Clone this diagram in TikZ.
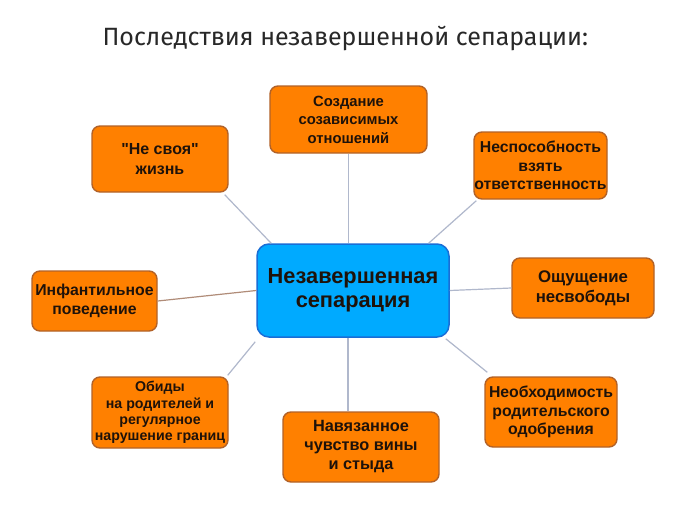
\documentclass[tikz,border=0pt]{standalone}
\usepackage{fontspec}
\setmainfont{Liberation Sans}[BoldFont={Liberation Sans Bold},Ligatures=TeXOff]
\newfontfamily\titlefont{Fira Sans}
\definecolor{boxfill}{RGB}{255,128,0}
\definecolor{boxline}{RGB}{178,98,40}
\definecolor{cfill}{RGB}{0,170,255}
\definecolor{cline}{RGB}{25,110,215}
\definecolor{conn}{RGB}{176,184,204}
\definecolor{connb}{RGB}{176,140,120}
\definecolor{txt}{RGB}{30,18,10}
\definecolor{ttl}{RGB}{40,40,40}
\newcommand{\fsz}[2]{\bfseries\fontsize{#1}{#2}\selectfont}
\begin{document}
\begin{tikzpicture}[x=1pt,y=-1pt,
  obox/.style={draw=boxline, fill=boxfill, line width=1.4pt, rounded corners=8pt,
    align=center, inner sep=0pt, text=txt, font=\fsz{14.5}{18}},
  cbox/.style={draw=cline, fill=cfill, line width=1.5pt, rounded corners=12pt,
    align=center, inner sep=0pt, text=txt, minimum width=192pt, minimum height=93pt,
    font=\fsz{21.8}{24.5}},
  link/.style={draw=conn, line width=1.2pt}]
\useasboundingbox (0,0) rectangle (700,522);
\fill[white] (0,0) rectangle (700,522);
\node[anchor=base west, text=ttl, font=\titlefont\fontsize{25}{29}\selectfont] (title) at (99,45) {Последствия незавершенной сепарации:};

\node[cbox] (c) at (353,290.5) {Незавершенная\\сепарация};
\node[obox, minimum width=157pt, minimum height=67pt, font=\fsz{14.8}{18.5}] (soz) at (348.5,119.5) {Создание\\созависимых\\отношений};
\node[obox, minimum width=136pt, minimum height=66pt, font=\fsz{16}{19.5}] (nesv) at (160,159) {"Не своя"\\жизнь};
\node[obox, minimum width=133pt, minimum height=67pt, font=\fsz{15.8}{18.5}] (nesp) at (540.5,165.5) {Неспособность\\взять\\ответственность};
\node[obox, minimum width=125pt, minimum height=60pt, font=\fsz{15.8}{19}] (inf) at (94.5,301) {Инфантильное\\поведение};
\node[obox, minimum width=142pt, minimum height=60pt, font=\fsz{16.8}{20}] (osh) at (583,288) {Ощущение\\несвободы};
\node[obox, minimum width=136pt, minimum height=71pt, font=\fsz{14.2}{16.2}] (obid) at (160,412.5) {Обиды\\на родителей и\\регулярное\\нарушение границ};
\node[obox, minimum width=156pt, minimum height=70pt, font=\fsz{16.3}{19}] (nav) at (361,447) {Навязанное\\чувство вины\\и стыда};
\node[obox, minimum width=132pt, minimum height=70pt, font=\fsz{15.8}{18.5}] (neob) at (551,412) {Необходимость\\родительского\\одобрения};

\path[link] (soz.south) -- (soz.south |- c.north);
\path[link] ([xshift=-4pt,yshift=-2pt]nesv.south east) -- (c.150);
\path[link] ([xshift=3pt,yshift=-1pt]nesp.south west) -- (c.32);
\path[link, draw=connb] (inf.east) -- (c.west);
\path[link] (c.east) -- (osh.west);
\path[link] ([xshift=-1pt,yshift=-4pt]c.south west) -- ([xshift=-1pt,yshift=1pt]obid.north east);
\path[link] ([xshift=-5pt]c.south) -- ([xshift=-5pt]c.south |- nav.north);
\path[link] ([xshift=-4pt,yshift=-1pt]c.south east) -- ([xshift=3pt,yshift=4pt]neob.north west);
\end{tikzpicture}
\end{document}
